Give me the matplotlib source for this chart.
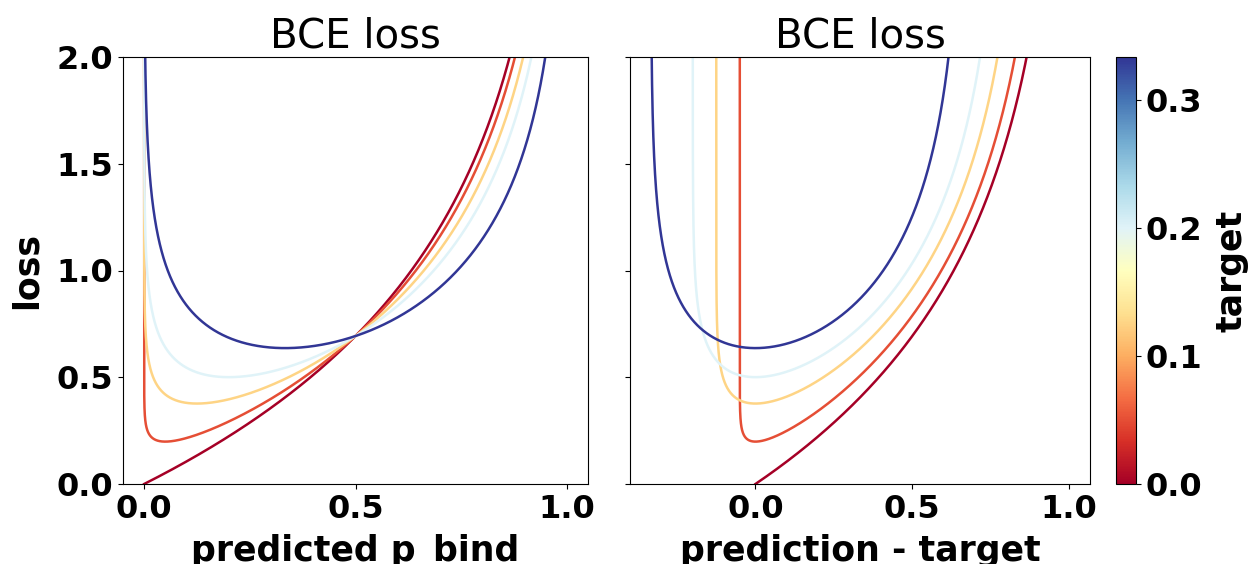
import numpy as np
import matplotlib.pyplot as plt
from matplotlib import cm
from matplotlib.colors import Normalize

# target values of the five curves (min loss = entropy of target)
targets = [0.0, 0.05, 0.125, 0.2, 1.0 / 3.0]
t_max = 1.0 / 3.0

# predicted probabilities, dense near the edges where the curves are steep
p = np.concatenate([np.geomspace(1e-40, 0.01, 4000),
                    np.linspace(0.01, 0.99, 4000),
                    1 - np.geomspace(0.01, 1e-15, 2000)])


def bce(t, p):
    return -(t * np.log(p) + (1 - t) * np.log(1 - p))


cmap = plt.get_cmap('RdYlBu')
norm = Normalize(vmin=0, vmax=t_max)

fig = plt.figure(figsize=(12.51, 5.64), dpi=100)
W, H = 1251, 564
ax1 = fig.add_axes([123 / W, 80 / H, 465 / W, 427 / H])
ax2 = fig.add_axes([630 / W, 80 / H, 460 / W, 427 / H], sharey=ax1)
cax = fig.add_axes([1116 / W, 80 / H, 20 / W, 427 / H])

for t in targets:
    loss = bce(t, p)
    ax1.plot(p, loss, color=cmap(norm(t)), lw=1.8)
    ax2.plot(p - t, loss, color=cmap(norm(t)), lw=1.8)

ax1.set_ylim(0, 2)
ax1.set_xlim(-0.05, 1.05)
ax2.set_xlim(-0.4, 1 + 0.4 / 6)

tick_font = dict(fontsize=23, fontweight='bold')
for ax in (ax1, ax2):
    ax.set_title('BCE loss', fontsize=29)
    ax.set_xticks([0.0, 0.5, 1.0])
    ax.set_xticklabels(['0.0', '0.5', '1.0'], **tick_font)
ax1.set_yticks([0.0, 0.5, 1.0, 1.5, 2.0])
ax1.set_yticklabels(['0.0', '0.5', '1.0', '1.5', '2.0'], **tick_font)
plt.setp(ax2.get_yticklabels(), visible=False)

ax1.set_ylabel('loss', fontsize=25, fontweight='bold', labelpad=9)
ax1.set_xlabel('predicted p_bind', fontsize=25, fontweight='bold', labelpad=7)
ax2.set_xlabel('prediction - target', fontsize=25, fontweight='bold', labelpad=7)

sm = cm.ScalarMappable(norm=norm, cmap=cmap)
cb = fig.colorbar(sm, cax=cax)
cb.set_ticks([0.0, 0.1, 0.2, 0.3])
cb.ax.set_yticklabels(['0.0', '0.1', '0.2', '0.3'], **tick_font)
cb.set_label('target', fontsize=25, fontweight='bold', labelpad=9)

fig.savefig('out.png', dpi=100)
